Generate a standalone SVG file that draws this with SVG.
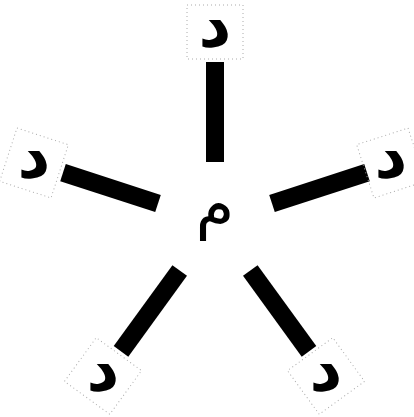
<svg xmlns="http://www.w3.org/2000/svg" width="414" height="417" viewBox="0 0 414 417">
<style>
.bar{stroke:#000;stroke-width:18;stroke-linecap:butt}
.box{fill:none;stroke:#aaa;stroke-width:1;stroke-dasharray:1 3}
.lbl{font-family:"DejaVu Sans",sans-serif;font-size:64px;font-weight:bold;fill:#000;text-anchor:middle}
.mid{font-family:"DejaVu Sans",sans-serif;font-size:62px;fill:#000;text-anchor:middle}
</style>
<rect width="414" height="417" fill="#fff"/>
<g id="connectors">
<line class="bar" x1="215" y1="162" x2="215" y2="62"/>
<line class="bar" x1="158" y1="203.5" x2="63" y2="172.6"/>
<line class="bar" x1="272" y1="203.5" x2="367" y2="172.6"/>
<line class="bar" x1="179.7" y1="270.5" x2="121" y2="351.4"/>
<line class="bar" x1="250.3" y1="270.5" x2="309" y2="351.4"/>
</g>
<g id="center"><text class="mid" x="215" y="226">م</text></g>
<g id="n1" transform="translate(215,32)"><rect class="box" x="-28" y="-27" width="56" height="54"/><text class="lbl" x="0" y="15">د</text></g>
<g id="n2" transform="translate(34,163)"><rect class="box" x="-28" y="-27" width="56" height="54" transform="rotate(-72)"/><text class="lbl" x="0" y="15">د</text></g>
<g id="n3" transform="translate(391,163)"><rect class="box" x="-28" y="-27" width="56" height="54" transform="rotate(72)"/><text class="lbl" x="0" y="15">د</text></g>
<g id="n4" transform="translate(103,376)"><rect class="box" x="-28" y="-27" width="56" height="54" transform="rotate(-144)"/><text class="lbl" x="0" y="15">د</text></g>
<g id="n5" transform="translate(326,376)"><rect class="box" x="-28" y="-27" width="56" height="54" transform="rotate(144)"/><text class="lbl" x="0" y="15">د</text></g>
</svg>
